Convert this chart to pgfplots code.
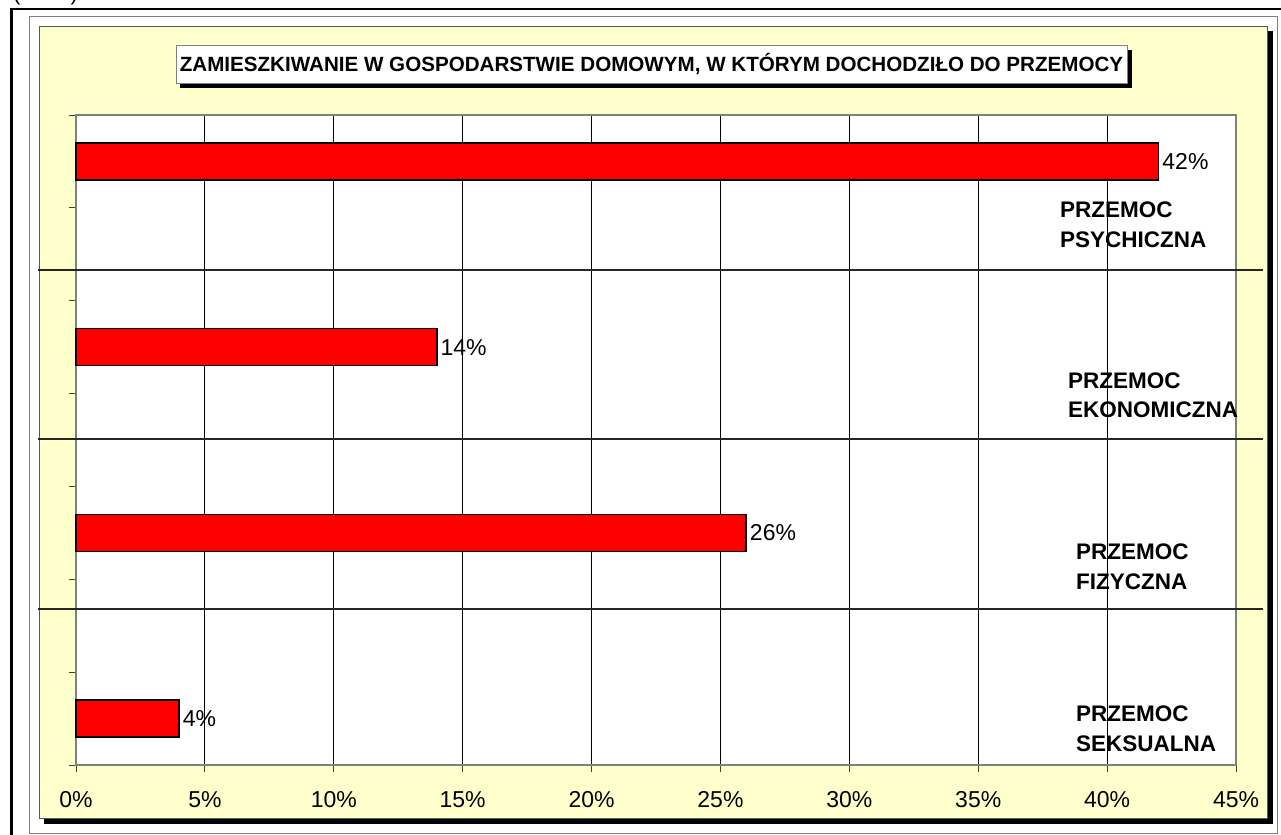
\documentclass[border=0pt]{standalone}
\usepackage{fontspec}
\setmainfont{Liberation Sans}
\usepackage{pgfplots}
\pgfplotsset{compat=1.18}
\definecolor{bgyellow}{HTML}{FFFFCC}
\definecolor{barred}{HTML}{FF0000}
\begin{document}
\begin{tikzpicture}
\begin{scope}[x=1bp,y=-1bp]
\useasboundingbox (0,0) rectangle (1281,835);
\node[anchor=base west, inner sep=0, font=\fontsize{22bp}{26bp}\selectfont] at (13,0.3) {(\hspace{14bp}\dots\hspace{14bp})};
\draw[black, line width=2.5bp] (11.5,9) rectangle (1300,860);
\draw[gray, line width=1bp] (29.5,16.5) rectangle (1277,833);
\fill[black] (44,31) rectangle (1273,824);
\filldraw[fill=bgyellow, draw=gray!70!black, line width=0.8bp] (39,26) rectangle (1267.5,818.5);
\fill[black] (180,50) rectangle (1131.5,87.5);
\filldraw[fill=white, draw=gray, line width=1bp] (176,45) rectangle (1127,83);
\node[font=\bfseries\fontsize{20.6bp}{24bp}\selectfont, inner sep=0] at (651.5,64) {ZAMIESZKIWANIE W GOSPODARSTWIE DOMOWYM, W KTÓRYM DOCHODZIŁO DO PRZEMOCY};
\end{scope}
\begin{axis}[
  at={(76bp,-765bp)}, anchor=south west,
  scale only axis, width=1160bp, height=650bp,
  xmin=0, xmax=45, ymin=0, ymax=7,
  xtick={0,5,...,45},
  xticklabels={0\%,5\%,10\%,15\%,20\%,25\%,30\%,35\%,40\%,45\%},
  ytick={0,1,...,7}, yticklabels={},
  tick align=outside, xtick pos=bottom, ytick pos=left,
  major tick length=7bp,
  tick style={draw=black!75, line width=1bp},
  xmajorgrids, grid style={black, line width=1bp},
  axis line style={draw=gray, line width=1.5bp},
  axis background/.style={fill=white},
  ticklabel style={font=\fontsize{23bp}{27bp}\selectfont},
  xticklabel style={yshift=-16bp},
  clip=false,
  xbar, bar width=37bp,
  /pgf/number format/assume math mode=true,
  nodes near coords={\pgfmathprintnumber{\pgfplotspointmeta}\%},
  nodes near coords style={font=\fontsize{23bp}{27bp}\selectfont, anchor=west, inner sep=3bp},
]
\addplot[fill=barred, draw=black, line width=1.5bp] coordinates {(42,6.5) (14,4.5) (26,2.5) (4,0.5)};
\draw[black!85, line width=1.5bp] (axis cs:-1.47,5.33) -- (axis cs:46.04,5.33);
\draw[black!85, line width=1.5bp] (axis cs:-1.47,3.51) -- (axis cs:46.04,3.51);
\draw[black!85, line width=1.5bp] (axis cs:-1.47,1.68) -- (axis cs:46.04,1.68);
\node[anchor=west, align=left, inner sep=0, font=\bfseries\fontsize{22.5bp}{30.5bp}\selectfont] at (axis cs:38.17,5.82) {PRZEMOC\\PSYCHICZNA};
\node[anchor=west, align=left, inner sep=0, font=\bfseries\fontsize{22.5bp}{29.5bp}\selectfont] at (axis cs:38.48,3.98) {PRZEMOC\\EKONOMICZNA};
\node[anchor=west, align=left, inner sep=0, font=\bfseries\fontsize{22.5bp}{30bp}\selectfont] at (axis cs:38.79,2.14) {PRZEMOC\\FIZYCZNA};
\node[anchor=west, align=left, inner sep=0, font=\bfseries\fontsize{22.5bp}{29.5bp}\selectfont] at (axis cs:38.79,0.39) {PRZEMOC\\SEKSUALNA};
\end{axis}
\end{tikzpicture}
\end{document}
